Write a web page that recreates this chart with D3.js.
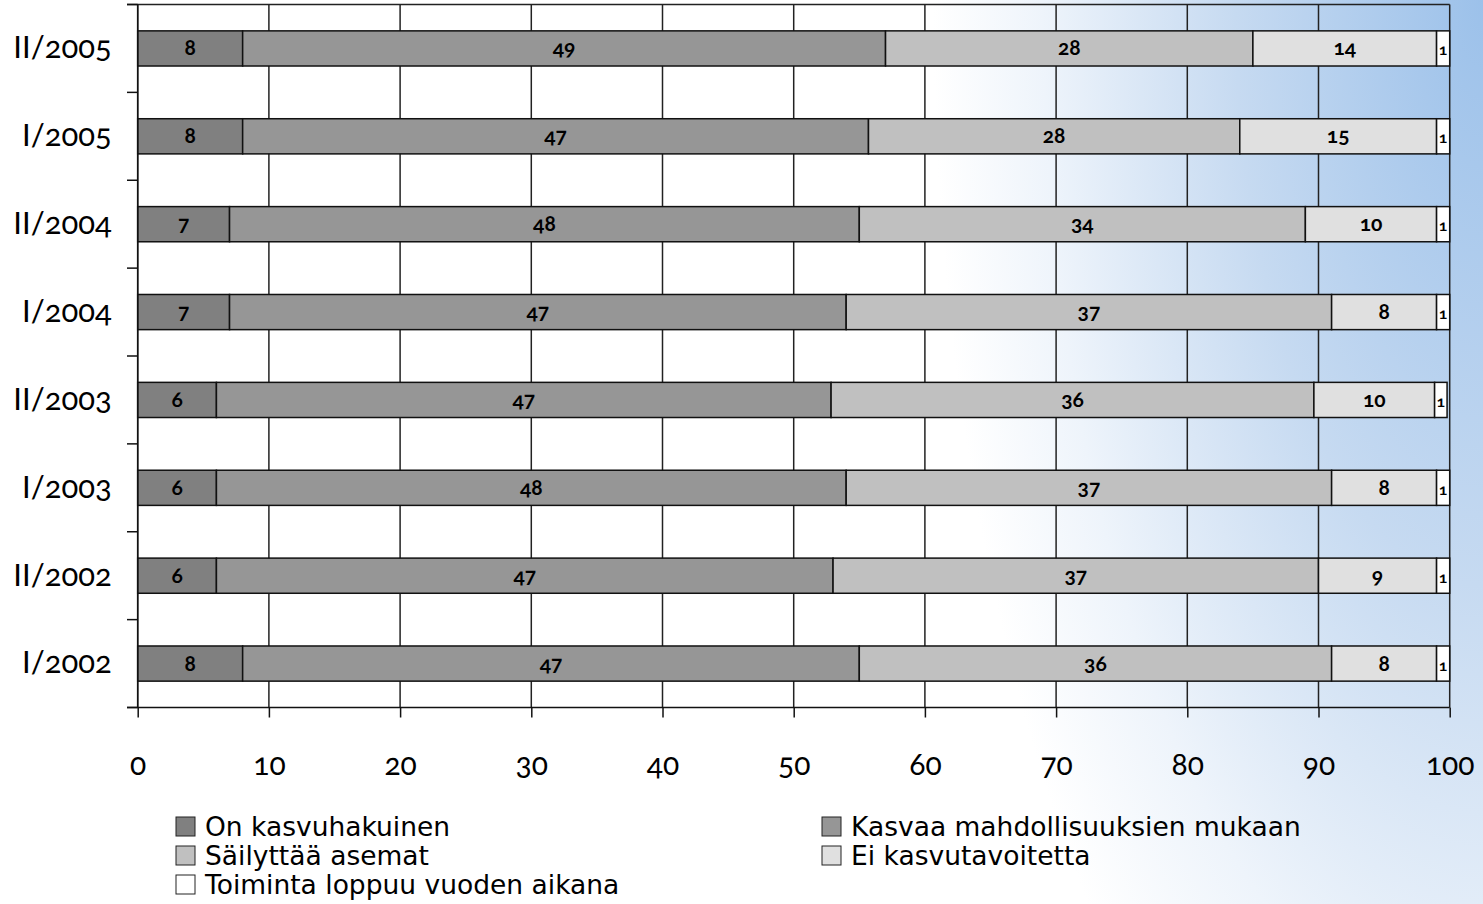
<!DOCTYPE html>
<html>
<head>
<meta charset="utf-8">
<script src="https://cdn.jsdelivr.net/npm/d3@7"></script>
<style>
  body { margin: 0; background: #fff; }
  svg { display: block; }
  .num { font-family: Lato, "Open Sans", sans-serif; font-variant-numeric: oldstyle-nums; font-feature-settings: "onum" 1; }
</style>
</head>
<body>
<div id="chart-area"></div>
<script>
// periods, top to bottom
const periods = ["II/2005", "I/2005", "II/2004", "I/2004", "II/2003", "I/2003", "II/2002", "I/2002"];

const seriesNames = ["On kasvuhakuinen", "Kasvaa mahdollisuuksien mukaan", "Säilyttää asemat", "Ei kasvutavoitetta", "Toiminta loppuu vuoden aikana"];
const seriesColors = ["#808080", "#969696", "#c0c0c0", "#e0e0e0", "#ffffff"];

// bar widths (%)
const onKasvuhakuinen = [8, 8, 7, 7, 6, 6, 6, 8];
const kasvaaMahd = [49, 47.7, 48, 47, 46.85, 48, 47, 47];
const sailyttaa = [28, 28.3, 34, 37, 36.8, 37, 37, 36];
const eiKasvu = [14, 15, 10, 8, 9.2, 8, 9, 8];
const toimintaLoppuu = [1, 1, 1, 1, 0.95, 1, 1, 1];

// printed labels inside the bars
const labOn = [8, 8, 7, 7, 6, 6, 6, 8];
const labKasvaa = [49, 47, 48, 47, 47, 48, 47, 47];
const labSail = [28, 28, 34, 37, 36, 37, 37, 36];
const labEi = [14, 15, 10, 8, 10, 8, 9, 8];
const labToim = [1, 1, 1, 1, 1, 1, 1, 1];

const xTicks = [0, 10, 20, 30, 40, 50, 60, 70, 80, 90, 100];

const allValues = [onKasvuhakuinen, kasvaaMahd, sailyttaa, eiKasvu, toimintaLoppuu];
const allLabels = [labOn, labKasvaa, labSail, labEi, labToim];

const W = 1483, H = 904;
const svg = d3.select("#chart-area").append("svg")
    .attr("width", W)
    .attr("height", H);

// background glow in the top right
const defs = svg.append("defs");
const grad = defs.append("radialGradient")
    .attr("id", "bg")
    .attr("gradientUnits", "userSpaceOnUse")
    .attr("cx", 1483).attr("cy", 0).attr("r", 1000)
    .attr("gradientTransform", "translate(1483,0) scale(0.55,1.3) translate(-1483,0)");
grad.append("stop").attr("offset", "0").attr("stop-color", "#9cc1ea");
grad.append("stop").attr("offset", "0.45").attr("stop-color", "#c6daf1");
grad.append("stop").attr("offset", "0.8").attr("stop-color", "#eef4fb");
grad.append("stop").attr("offset", "1").attr("stop-color", "#ffffff");
svg.append("rect").attr("width", W).attr("height", H).attr("fill", "url(#bg)");

const x = d3.scaleLinear().domain([0, 100]).range([137.7, 1449.7]);
const y = d3.scaleBand().domain(periods).range([4.5, 707.5])
    .paddingInner(0.6).paddingOuter(0.3);

// stacked rows
const rows = periods.map((p, i) => {
    let acc = 0;
    return allValues.map((arr, s) => {
        const seg = { period: p, s: s, x0: acc, x1: acc + arr[i], label: allLabels[s][i] };
        acc += arr[i];
        return seg;
    });
});

// vertical gridlines
svg.append("g").selectAll("line")
    .data(xTicks).enter()
    .append("line")
    .attr("x1", d => x(d)).attr("x2", d => x(d))
    .attr("y1", y.range()[0]).attr("y2", y.range()[1])
    .attr("stroke", "#222")
    .attr("stroke-width", 1.5);

// top border line
svg.append("line")
    .attr("x1", 127).attr("x2", x(100))
    .attr("y1", y.range()[0]).attr("y2", y.range()[0])
    .attr("stroke", "#222").attr("stroke-width", 1.5);

// bars
const barG = svg.append("g");
rows.forEach(r => {
    barG.selectAll(null)
        .data(r).enter()
        .append("rect")
        .attr("x", d => x(d.x0))
        .attr("y", d => y(d.period))
        .attr("width", d => x(d.x1) - x(d.x0))
        .attr("height", y.bandwidth())
        .attr("fill", d => seriesColors[d.s])
        .attr("stroke", "#111")
        .attr("stroke-width", 1.5);

    barG.selectAll(null)
        .data(r).enter()
        .append("text")
        .attr("class", "num")
        .attr("x", d => (x(d.x0) + x(d.x1)) / 2)
        .attr("y", d => y(d.period) + y.bandwidth() / 2 + 7)
        .attr("text-anchor", "middle")
        .attr("font-size", d => d.s === 4 ? 16 : 21)
        .attr("font-weight", "bold")
        .attr("fill", "#000")
        .text(d => d.label);
});

// y axis: line, ticks at band boundaries, labels
const yAxisG = svg.append("g");
yAxisG.append("line")
    .attr("x1", x(0)).attr("x2", x(0))
    .attr("y1", y.range()[0]).attr("y2", y.range()[1])
    .attr("stroke", "#111").attr("stroke-width", 1.5);
const bounds = d3.range(periods.length + 1).map(i => y.range()[0] + i * y.step());
yAxisG.selectAll(".yt")
    .data(bounds).enter()
    .append("line")
    .attr("x1", 127).attr("x2", x(0))
    .attr("y1", d => d).attr("y2", d => d)
    .attr("stroke", "#111").attr("stroke-width", 1.5);

svg.append("g")
    .attr("transform", `translate(${x(0)},0)`)
    .call(d3.axisLeft(y).tickSize(0).tickPadding(26))
    .call(g => g.select(".domain").remove())
    .selectAll("text")
    .attr("class", "num")
    .attr("font-size", 31)
    .attr("font-weight", 400)
    .attr("fill", "#000");

// x axis
svg.append("g")
    .attr("transform", `translate(0,${y.range()[1]})`)
    .call(d3.axisBottom(x).tickValues(xTicks).tickSize(10).tickSizeOuter(0).tickPadding(36))
    .call(g => g.select(".domain").attr("stroke", "#111").attr("stroke-width", 1.5)
        .attr("d", `M127,0H${x(100)}`))
    .call(g => g.selectAll(".tick line").attr("stroke", "#111").attr("stroke-width", 1.5))
    .selectAll("text")
    .attr("class", "num")
    .attr("font-size", 30)
    .attr("font-weight", 400)
    .attr("fill", "#000");

// legend
const legendPos = [
    { x: 176, y: 836 }, { x: 822, y: 836 },
    { x: 176, y: 865 }, { x: 822, y: 865 },
    { x: 176, y: 894 }
];
const leg = svg.append("g").selectAll("g")
    .data(seriesNames).enter()
    .append("g")
    .attr("transform", (d, i) => `translate(${legendPos[i].x},${legendPos[i].y})`);
leg.append("rect")
    .attr("x", 0).attr("y", -19)
    .attr("width", 19).attr("height", 19)
    .attr("fill", (d, i) => seriesColors[i])
    .attr("stroke", "#222").attr("stroke-width", 1);
leg.append("text")
    .attr("x", 29).attr("y", 0)
    .attr("font-family", "DejaVu Sans, sans-serif")
    .attr("font-size", 26.5)
    .attr("fill", "#000")
    .text(d => d);
</script>
</body>
</html>
